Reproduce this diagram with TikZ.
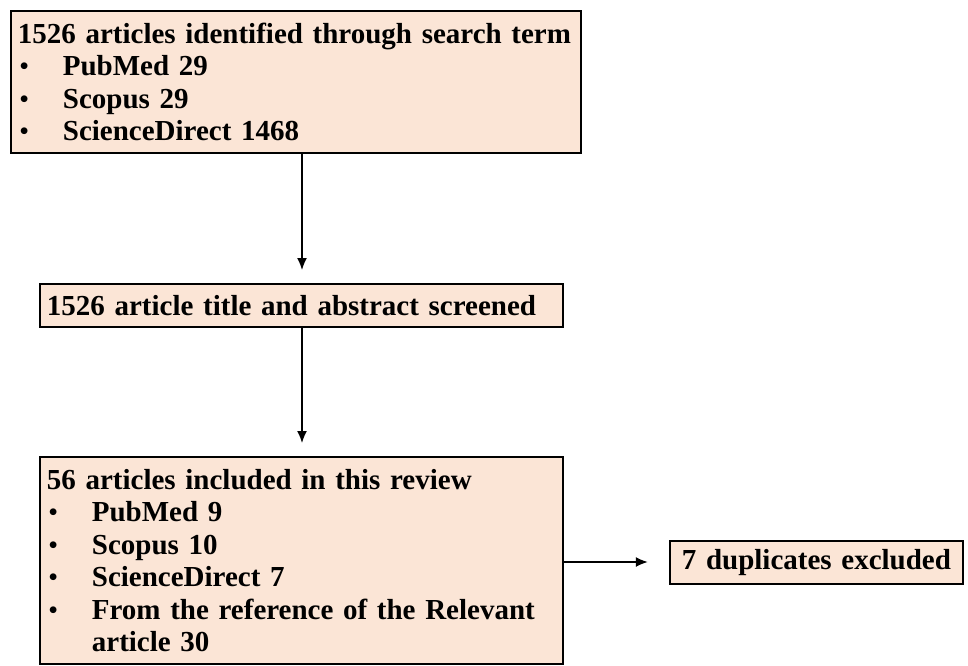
\documentclass[tikz,border=0pt]{standalone}
\usepackage{fontspec}
\setmainfont{Liberation Serif}
\usetikzlibrary{arrows.meta}
\definecolor{peach}{HTML}{FBE5D6}
\begin{document}
\begin{tikzpicture}[x=1pt,y=-1pt,
  box/.style={draw=black, fill=peach, line width=1.8pt, anchor=north west,
    align=left, inner xsep=7pt, inner ysep=0pt, font=\bfseries\fontsize{29}{32.5}\selectfont},
  conn/.style={line width=1.5pt, -{Latex[length=12pt,width=10pt]}}]
\useasboundingbox (0,0) rectangle (968,665);
\newcommand{\itm}{\makebox[45pt][l]{\hspace{2pt}\raisebox{1pt}{\fontsize{25}{25}\selectfont\textbullet}}}
\node[box, minimum width=570pt, minimum height=142pt, text width=556pt] (b1) at (10,10)
  {\mbox{1526 articles identified through search term}\\
   \itm PubMed 29\\
   \itm Scopus 29\\
   \itm ScienceDirect 1468};
\node[box, minimum width=523pt, minimum height=43pt, text width=509pt] (b2) at (39,283)
  {\mbox{1526 article title and abstract screened}};
\node[box, minimum width=523pt, minimum height=207pt, text width=509pt] (b3) at (39,456)
  {56 articles included in this review\\
   \itm PubMed 9\\
   \itm Scopus 10\\
   \itm ScienceDirect 7\\
   \itm \mbox{From the reference of the Relevant}\\
   \hspace*{45pt}article 30};
\node[box, minimum width=293pt, minimum height=43pt, text width=279pt, align=center] (b4) at (669,540)
  {7 duplicates excluded};
\coordinate (a1s) at (302,152);
\coordinate (a1e) at (302,270);
\coordinate (a2s) at (302,326);
\coordinate (a2e) at (302,443);
\draw[conn] (b1.south -| a1s) -- (a1e);
\draw[conn] (b2.south -| a2s) -- (a2e);
\draw[conn] (b3.east |- 0,562) -- ++(84,0);
\end{tikzpicture}
\end{document}
